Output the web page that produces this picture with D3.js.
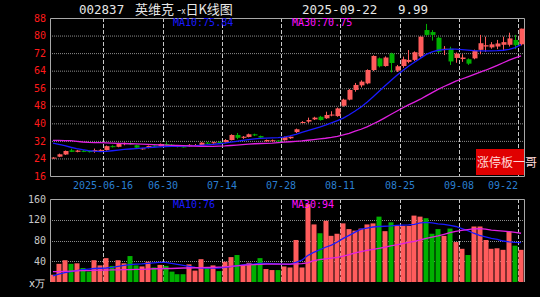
<!DOCTYPE html>
<html>
<head>
<meta charset="utf-8">
<script src="https://cdn.jsdelivr.net/npm/d3@7"></script>
<style>
  body { margin: 0; background: #000; }
  text { font-family: "DejaVu Sans Mono", monospace; }
</style>
</head>
<body>
<div id="chart"></div>
<script>
// trading days 2025-06-03 .. 2025-09-22
var dates = ["06-03","06-04","06-05","06-06","06-09","06-10","06-11","06-12","06-13","06-16",
  "06-17","06-18","06-19","06-20","06-23","06-24","06-25","06-26","06-27","06-30",
  "07-01","07-02","07-03","07-04","07-07","07-08","07-09","07-10","07-11","07-14",
  "07-15","07-16","07-17","07-18","07-21","07-22","07-23","07-24","07-25","07-28",
  "07-29","07-30","07-31","08-01","08-04","08-05","08-06","08-07","08-08","08-11",
  "08-12","08-13","08-14","08-15","08-18","08-19","08-20","08-21","08-22","08-25",
  "08-26","08-27","08-28","08-29","09-01","09-02","09-03","09-04","09-05","09-08",
  "09-09","09-10","09-11","09-12","09-15","09-16","09-17","09-18","09-19","09-22"];

var open = [24.0,24.8,25.8,27.7,27.0,27.5,27.4,27.2,27.6,27.8,
  29.6,29.3,30.5,31.0,30.0,28.4,28.9,29.9,29.6,30.6,
  30.3,29.7,29.5,29.5,29.9,30.0,31.2,30.9,31.5,31.4,
  32.4,34.7,33.4,33.8,35.0,34.2,31.8,31.9,32.2,32.3,
  33.2,36.0,40.3,40.8,41.8,43.0,42.3,43.8,43.3,48.0,
  50.8,55.2,57.3,58.2,64.3,69.6,66.1,71.8,64.0,66.1,
  68.0,68.9,70.5,82.5,81.6,79.0,73.4,74.0,69.8,69.3,
  69.2,69.6,73.5,75.0,74.6,75.0,75.8,75.8,78.0,76.0];
var high = [24.6,26.2,27.6,28.4,27.9,27.8,27.6,28.5,28.2,29.9,
  30.0,31.2,31.3,31.4,30.2,28.8,29.9,30.0,30.8,31.4,
  30.6,29.9,29.8,30.5,30.6,31.4,31.5,31.6,31.8,32.8,
  35.0,35.6,34.2,35.3,35.3,34.4,32.6,32.6,32.4,34.0,
  34.0,37.6,41.0,42.6,43.0,43.4,45.3,45.5,47.2,51.2,
  55.6,58.4,59.6,64.6,71.0,70.0,70.5,72.2,66.6,70.4,
  73.4,72.8,79.6,85.3,82.5,79.6,75.2,74.9,72.3,71.5,
  69.6,73.6,80.3,79.5,77.0,78.0,79.5,81.3,80.3,83.15];
var low = [23.9,24.6,25.6,26.9,26.8,26.9,26.7,26.6,27.3,27.6,
  29.0,29.1,30.0,30.2,28.7,28.0,28.6,29.2,29.4,29.8,
  29.8,29.0,29.0,29.3,29.8,29.9,30.6,30.7,30.9,31.2,
  32.2,32.8,32.9,33.6,34.2,33.3,31.6,31.6,31.6,32.1,
  32.9,35.6,40.0,40.2,41.5,41.2,42.0,43.2,43.0,47.6,
  50.5,54.4,56.4,57.8,63.8,65.5,65.8,63.2,63.4,65.3,
  67.4,68.4,70.0,79.8,77.7,72.0,71.1,66.6,67.6,68.0,
  66.6,69.2,71.5,72.6,74.0,73.8,73.0,75.0,73.8,75.5];
var close = [24.4,25.9,27.4,27.0,27.6,27.0,26.9,27.8,27.9,29.6,
  29.2,30.9,31.0,30.4,28.9,28.6,29.7,29.4,30.6,30.1,
  30.0,29.2,29.2,30.2,30.1,31.2,30.8,31.4,31.0,32.4,
  34.7,33.4,33.9,35.0,34.5,33.5,32.4,32.3,31.8,33.7,
  33.9,37.3,40.6,41.5,42.6,41.5,43.8,44.0,46.8,50.8,
  55.2,57.5,59.0,64.3,70.7,66.0,70.0,67.5,66.0,69.2,
  68.9,72.4,79.5,80.3,80.3,72.6,74.0,68.2,71.8,70.0,
  67.2,73.2,76.5,75.6,76.0,76.4,77.0,78.7,75.6,83.15];

var ma10 = [31.0,30.4,29.8,29.1,28.5,28.0,27.6,27.3,27.1,27.2,
  27.5,27.8,28.1,28.3,28.5,28.7,28.9,29.1,29.3,29.4,
  29.5,29.5,29.6,29.7,29.8,30.0,30.2,30.4,30.7,31.0,
  31.4,31.8,32.2,32.6,32.9,33.1,33.3,33.4,33.5,33.7,
  34.3,35.0,35.9,36.7,37.5,38.3,39.2,40.2,41.2,42.4,
  43.9,45.6,47.4,49.6,52.0,54.5,57.0,59.4,61.8,64.0,
  66.0,67.8,69.6,71.4,72.6,73.3,73.6,73.8,73.8,73.6,
  73.4,73.1,73.0,73.0,73.0,73.1,73.3,73.7,74.5,75.84];
var ma30 = [32.2,32.2,32.1,32.1,31.8,31.5,31.3,31.2,31.2,31.1,
  31.0,30.9,30.8,30.7,30.6,30.5,30.4,30.3,30.2,30.1,
  30.0,29.9,29.8,29.7,29.6,29.5,29.5,29.5,29.6,29.7,
  29.9,30.1,30.3,30.5,30.7,30.8,30.9,31.0,31.2,31.4,
  31.6,31.8,32.0,32.3,32.6,32.9,33.2,33.6,34.1,34.7,
  35.4,36.4,37.3,38.4,39.7,41.0,42.5,44.0,45.5,47.0,
  48.4,49.7,51.0,52.5,54.0,55.5,56.8,58.0,59.2,60.2,
  61.2,62.2,63.2,64.2,65.3,66.4,67.6,68.8,69.8,70.75];

var volume = [14,35,42,35,36,27,20,42,32,46,
  31,42,36,50,32,30,39,28,33,31,
  20,15,15,34,22,44,29,32,21,39,
  48,52,33,37,34,46,25,23,23,30,
  28,81,28,150,111,94,118,89,93,113,
  102,99,103,111,113,126,98,115,108,108,
  108,128,126,123,93,102,89,103,77,64,
  52,107,107,81,64,65,62,97,70,62];
var volMa10 = [12,15,18,20,22,24,25,26,26.5,27,
  28,30,32,33.5,34.5,35,36,37,38,38,
  36,34,32,30,28,27,27,27,27,28,
  29.5,31,33,34.5,35,36,36,35.5,35,34.5,
  34,38,42,51,57,62,67,71,77,84,
  90,96,102,104,106,107,107.5,108,109,109.5,
  110,111,114,115,114,112,111,109,107,103,
  99,94,90,87,84,82,79,77.5,76.5,76];
var volMa30 = [20,20,20.5,21,21.5,22,22,22.5,23,23,
  23.5,23.5,24,24,24.5,24.5,25,25.5,25.5,26,
  26,26.5,27,27,27.5,27.5,28,28,28.5,29,
  30,31,32,33,33.5,34,34.5,34.5,34.5,34.5,
  34.5,35,35.5,37,41,43,44.5,46,47.5,50,
  53,56,58.5,61,63,65,67,69.5,71.5,74,
  76.5,78.5,81,84,86.5,89,92,95,97.5,99.5,
  101,102.5,103,102,100,99,98,97,95.5,94];

var priceTicks = [16,24,32,40,48,56,64,72,80,88];
var volTicks = [40,80,120,160];
var tickDates = ["06-16","06-30","07-14","07-28","08-11","08-25","09-08","09-22"];
var tickLabels = ["2025-06-16","06-30","07-14","07-28","08-11","08-25","09-08","09-22"];

var upColor = "#ff5c5c", downColor = "#00b000";
var left = 50, right = 524;

var svg = d3.select("#chart").append("svg")
  .attr("width", 540)
  .attr("height", 297)
  .style("background", "#000");

var x = d3.scaleBand().domain(dates).range([left, right]);
var bw = x.bandwidth();
var cx = function (d) { return x(d) + bw / 2; };
var y = d3.scaleLinear().domain([16, 88]).range([176, 18]);
var yv = d3.scaleLinear().domain([0, 160]).range([282, 199]);

//header
var head = svg.append("g").attr("fill", "#e8e8e8").style("font-family", "'Liberation Sans', sans-serif").style("font-size", "12.5px");
head.append("text").attr("x", 79).attr("y", 14).text("002837");
var ht = head.append("text").attr("x", 135).attr("y", 14).style("font-family", "'Noto Sans CJK SC', sans-serif").style("font-size", "13px");
ht.append("tspan").text("英维克 -");
ht.append("tspan").style("font-size", "8px").text("x");
ht.append("tspan").text("日K线图");
head.append("text").attr("x", 302).attr("y", 14).text("2025-09-22");
head.append("text").attr("x", 398).attr("y", 14).text("9.99");

//price grid
var gridP = svg.append("g").attr("class", "grid");
gridP.selectAll("line.h")
  .data(priceTicks.slice(1, -1))
  .enter().append("line")
  .attr("x1", left).attr("x2", right)
  .attr("y1", function (d) { return y(d) + 0.5; })
  .attr("y2", function (d) { return y(d) + 0.5; })
  .attr("stroke", "#8c8c8c").attr("stroke-dasharray", "1,1");
gridP.selectAll("line.v")
  .data(tickDates)
  .enter().append("line")
  .attr("x1", function (d) { return Math.round(x(d)) + 0.5; })
  .attr("x2", function (d) { return Math.round(x(d)) + 0.5; })
  .attr("y1", 18).attr("y2", 176)
  .attr("stroke", "#c8c8c8").attr("stroke-dasharray", "4,2");

//volume grid
var gridV = svg.append("g");
gridV.selectAll("line.h")
  .data(volTicks.slice(0, -1))
  .enter().append("line")
  .attr("x1", left).attr("x2", right)
  .attr("y1", function (d) { return Math.round(yv(d)) + 0.5; })
  .attr("y2", function (d) { return Math.round(yv(d)) + 0.5; })
  .attr("stroke", "#8c8c8c").attr("stroke-dasharray", "1,1");
gridV.selectAll("line.v")
  .data(tickDates)
  .enter().append("line")
  .attr("x1", function (d) { return Math.round(x(d)) + 0.5; })
  .attr("x2", function (d) { return Math.round(x(d)) + 0.5; })
  .attr("y1", 199).attr("y2", 282)
  .attr("stroke", "#c8c8c8").attr("stroke-dasharray", "4,2");

//frames
svg.append("path")
  .attr("d", "M" + (left + 0.5) + ",176.5V18.5H" + (right + 0.5) + "V176.5H" + (left + 0.5))
  .attr("fill", "none").attr("stroke", "#a8a8a8");
svg.append("path")
  .attr("d", "M" + (left + 0.5) + ",282V199.5H" + (right + 0.5) + "V282")
  .attr("fill", "none").attr("stroke", "#a8a8a8");

//axes
var yAxis = d3.axisLeft(y).tickValues(priceTicks).tickSize(0).tickPadding(4);
var gy = svg.append("g").attr("transform", "translate(" + left + ",0)").call(yAxis);
gy.select(".domain").remove();
gy.selectAll("text").attr("fill", "#ff1a1a").style("font-size", "10px").style("font-family", "'DejaVu Sans Mono', monospace");

var vAxis = d3.axisLeft(yv).tickValues(volTicks).tickSize(0).tickPadding(4);
var gv = svg.append("g").attr("transform", "translate(" + left + ",0)").call(vAxis);
gv.select(".domain").remove();
gv.selectAll("text").attr("fill", "#c8c8c8").style("font-size", "10px").style("font-family", "'DejaVu Sans Mono', monospace");
svg.append("text").attr("x", 45).attr("y", 287).attr("text-anchor", "end")
  .attr("fill", "#e8e8e8").style("font-size", "10px").text("x万");

svg.selectAll("text.xlab")
  .data(tickDates)
  .enter().append("text")
  .attr("class", "xlab")
  .attr("x", function (d, i) { return i === tickDates.length - 1 ? Math.round(x(d)) : Math.round(x(d)); })
  .attr("y", 189)
  .attr("text-anchor", function (d, i) { return i === tickDates.length - 1 ? "end" : "middle"; })
  .attr("fill", "#2a7fd0")
  .style("font-size", "10px")
  .text(function (d, i) { return tickLabels[i]; });

//candles
var candles = svg.append("g").selectAll("g")
  .data(dates)
  .enter().append("g")
  .attr("stroke", function (d, i) { return close[i] >= open[i] ? upColor : downColor; })
  .attr("fill", function (d, i) { return close[i] >= open[i] ? upColor : downColor; });
candles.append("line")
  .attr("x1", function (d) { return Math.round(cx(d)) + 0.5; })
  .attr("x2", function (d) { return Math.round(cx(d)) + 0.5; })
  .attr("y1", function (d, i) { return y(high[i]); })
  .attr("y2", function (d, i) { return y(low[i]); });
candles.append("rect")
  .attr("stroke", "none")
  .attr("x", function (d) { return Math.round(cx(d)) - 1.5; })
  .attr("width", 5)
  .attr("y", function (d, i) { return y(Math.max(open[i], close[i])); })
  .attr("height", function (d, i) { return Math.max(1, Math.abs(y(open[i]) - y(close[i]))); });

//price MAs
var line = function (arr, sc) {
  return d3.line()
    .x(function (d, i) { return cx(dates[i]); })
    .y(function (d) { return sc(d); })(arr);
};
svg.append("path").attr("d", line(ma10, y)).attr("fill", "none").attr("stroke", "#1a1aff").attr("stroke-width", 1.3);
svg.append("path").attr("d", line(ma30, y)).attr("fill", "none").attr("stroke", "#e020e0").attr("stroke-width", 1.3);

//volume bars
svg.append("g").selectAll("rect")
  .data(volume)
  .enter().append("rect")
  .attr("x", function (d, i) { return Math.round(x(dates[i])) + 0.5; })
  .attr("width", 5)
  .attr("y", function (d) { return yv(d); })
  .attr("height", function (d) { return yv(0) - yv(d); })
  .attr("fill", function (d, i) { return close[i] >= open[i] ? upColor : downColor; });
svg.append("path").attr("d", line(volMa10, yv)).attr("fill", "none").attr("stroke", "#1a1aff").attr("stroke-width", 1.3);
svg.append("path").attr("d", line(volMa30, yv)).attr("fill", "none").attr("stroke", "#e020e0").attr("stroke-width", 1.3);

//legends
var leg = svg.append("g").style("font-size", "10px");
leg.append("text").attr("x", 173).attr("y", 26).attr("fill", "#1a1aff").text("MA10:" + ma10[ma10.length - 1].toFixed(2));
leg.append("text").attr("x", 292).attr("y", 26).attr("fill", "#ff10ff").text("MA30:" + ma30[ma30.length - 1].toFixed(2));
leg.append("text").attr("x", 173).attr("y", 208).attr("fill", "#1a1aff").text("MA10:" + Math.round(volMa10[volMa10.length - 1]));
leg.append("text").attr("x", 292).attr("y", 208).attr("fill", "#ff10ff").text("MA30:" + Math.round(volMa30[volMa30.length - 1]));

//red badge
svg.append("rect").attr("x", 476).attr("y", 149).attr("width", 48).attr("height", 26).attr("fill", "#e00000");
svg.append("text").attr("x", 477).attr("y", 167)
  .attr("fill", "#ffd8d8")
  .style("font-family", "'Noto Sans CJK SC', sans-serif")
  .style("font-size", "12px")
  .text("涨停板一哥");
</script>
</body>
</html>
